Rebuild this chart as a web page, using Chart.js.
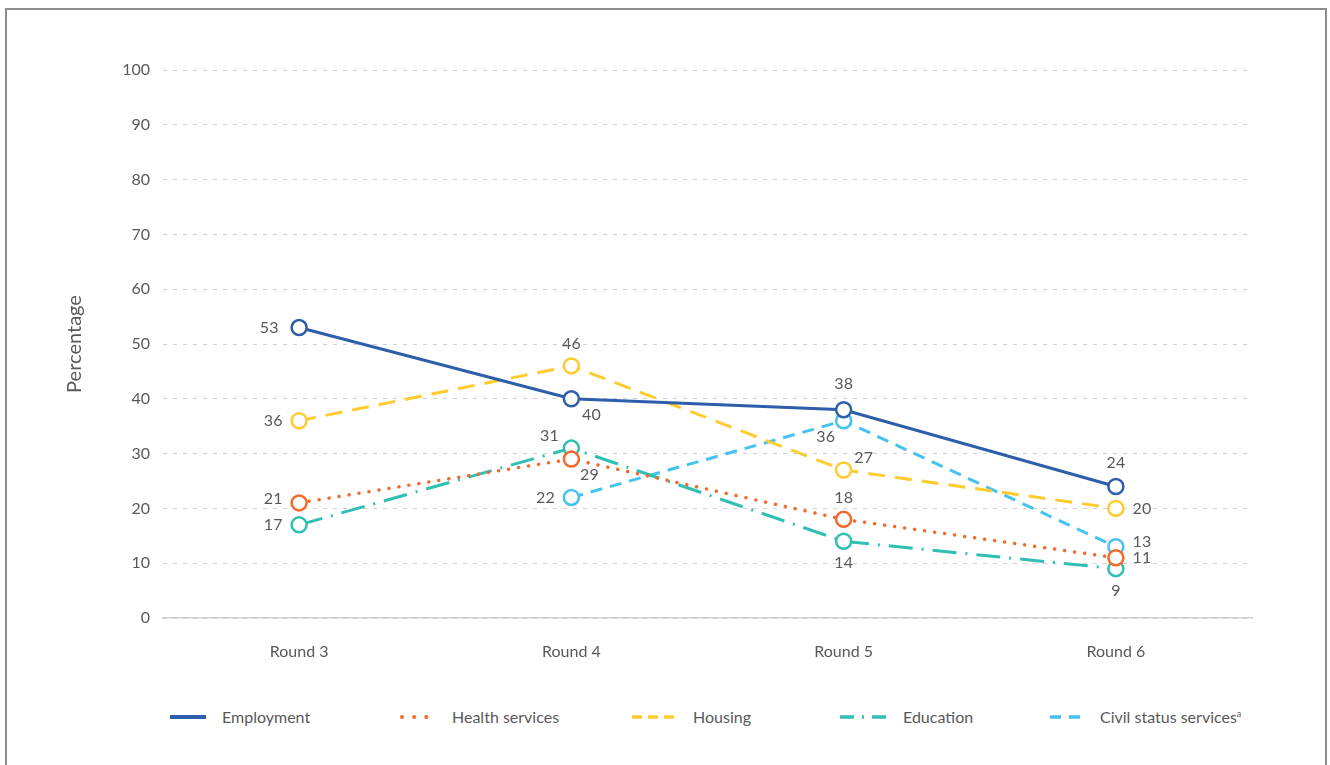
<!DOCTYPE html>
<html>
<head>
<meta charset="utf-8">
<script src="https://cdn.jsdelivr.net/npm/chart.js@4.4.1/dist/chart.umd.min.js"></script>
<style>
  html, body { margin: 0; padding: 0; background: #fff; }
  body { width: 1330px; height: 765px; position: relative; overflow: hidden; font-family: Lato, "Open Sans", sans-serif; color: #595959; }
  .frame { position: absolute; left: 5px; top: 8px; width: 1318px; height: 800px; border: 2px solid #8c8c8c; border-bottom: none; }
  .chart-box { position: absolute; left: 0; top: 0; width: 1330px; height: 680px; }
  .legend { position: absolute; top: 704px; left: 0; width: 1330px; height: 26px; }
  .legend svg { position: absolute; top: 8px; }
  .legend span { position: absolute; top: 0; line-height: 26px; font-size: 16px; white-space: nowrap; }
  .legend sup { font-size: 9px; vertical-align: 6px; line-height: 0; }
</style>
</head>
<body>
<div class="frame"></div>
<div class="chart-box"><canvas id="lineChart"></canvas></div>
<div class="legend" id="legend"></div>
<script>
// カテゴリと系列データ
const rounds = ['Round 3', 'Round 4', 'Round 5', 'Round 6'];
const employment = [53, 40, 38, 24];
const healthServices = [21, 29, 18, 11];
const housing = [36, 46, 27, 20];
const education = [17, 31, 14, 9];
const civilStatus = [null, 22, 36, 13];
const yTicks = [0, 10, 20, 30, 40, 50, 60, 70, 80, 90, 100];

// ラベル位置（点からのずれ）
const labelOffsets = [
  [[-30, 0], [20, 16], [0, -26], [0, -24]],
  [[-26, -4], [18, 16], [0, -22], [26, 0]],
  [[-26, 0], [0, -22], [20, -12], [26, 0]],
  [[-26, 0], [-22, -12], [0, 22], [0, 22]],
  [null, [-26, 0], [-18, 16], [26, -5]]
];

const series = [
  { label: 'Employment', data: employment, color: '#2E5DAA', dash: [], cap: 'butt', width: 3 },
  { label: 'Health services', data: healthServices, color: '#F26A2C', dash: [0.1, 10], cap: 'round', width: 3.5 },
  { label: 'Housing', data: housing, color: '#FFCB2F', dash: [17, 10], cap: 'butt', width: 3 },
  { label: 'Education', data: education, color: '#2FBFB3', dash: [24, 9, 2, 9], cap: 'butt', width: 3 },
  { label: 'Civil status services', data: civilStatus, color: '#45C3F0', dash: [12, 8], cap: 'butt', width: 3 }
];

const textColor = '#595959';
const fontFamily = 'Lato, "Open Sans", sans-serif';

// データラベル描画プラグイン
const valueLabels = {
  id: 'valueLabels',
  afterDatasetsDraw(chart) {
    const ctx = chart.ctx;
    ctx.save();
    ctx.font = '16px ' + fontFamily;
    ctx.fillStyle = textColor;
    ctx.textAlign = 'center';
    ctx.textBaseline = 'middle';
    chart.data.datasets.forEach((ds, i) => {
      const meta = chart.getDatasetMeta(i);
      meta.data.forEach((pt, j) => {
        const v = ds.data[j];
        const off = labelOffsets[i][j];
        if (v === null || !off) return;
        ctx.fillText(String(v), pt.x + off[0], pt.y + off[1]);
      });
    });
    ctx.restore();
  }
};

const datasets = series.map(s => ({
  label: s.label,
  data: s.data,
  borderColor: s.color,
  borderWidth: s.width,
  borderDash: s.dash,
  borderCapStyle: s.cap,
  pointRadius: 7.5,
  pointBorderWidth: 2.5,
  pointBackgroundColor: '#fff',
  pointBorderColor: s.color,
  tension: 0,
  spanGaps: false
}));

new Chart(document.getElementById('lineChart'), {
  type: 'line',
  data: { labels: rounds, datasets: datasets },
  options: {
    responsive: true,
    maintainAspectRatio: false,
    animation: false,
    layout: { padding: { top: 70, right: 78, left: 0, bottom: 0 } },
    plugins: { legend: { display: false }, tooltip: { enabled: false } },
    scales: {
      x: {
        offset: true,
        grid: { display: false, drawTicks: false },
        border: { display: true, color: '#d0d0d0', width: 1.5 },
        ticks: { color: textColor, font: { family: fontFamily, size: 16 }, padding: 24 },
        afterFit(scale) { scale.height = 62; }
      },
      y: {
        min: 0,
        max: 100,
        afterBuildTicks(scale) { scale.ticks = yTicks.map(v => ({ value: v })); },
        grid: { color: '#cfcfcf', lineWidth: 1, drawTicks: false },
        border: { display: false, dash: [4, 6] },
        ticks: { color: textColor, font: { family: fontFamily, size: 16 }, padding: 13 },
        title: {
          display: true,
          text: 'Percentage',
          color: textColor,
          font: { family: fontFamily, size: 20 },
          padding: { top: 63, bottom: 0 }
        },
        afterFit(scale) { scale.width = 163; }
      }
    }
  },
  plugins: [valueLabels]
});

// 凡例（HTML）
const legendLineX = [170, 400, 632, 840, 1050];
const legendLineW = [36, 28, 42, 46, 30];
const legendDash = ['', '0.1 12', '10 6', '14 8 2 8', '11 8'];
const legendTextX = [222, 452, 693, 903, 1100];
const legendEl = document.getElementById('legend');
series.forEach((s, i) => {
  const w = legendLineW[i];
  const x1 = s.cap === 'round' ? 2 : 0;
  const dashAttr = legendDash[i] ? `stroke-dasharray="${legendDash[i]}"` : '';
  const svg = `<svg style="left:${legendLineX[i]}px" width="${w + 2}" height="10"><line x1="${x1}" y1="5" x2="${w}" y2="5" stroke="${s.color}" stroke-width="${i === 0 ? 4 : s.width + 0.5}" stroke-linecap="${s.cap}" ${dashAttr}/></svg>`;
  const text = `<span style="left:${legendTextX[i]}px">${s.label}${i === 4 ? '<sup>a</sup>' : ''}</span>`;
  legendEl.insertAdjacentHTML('beforeend', svg + text);
});
</script>
</body>
</html>
